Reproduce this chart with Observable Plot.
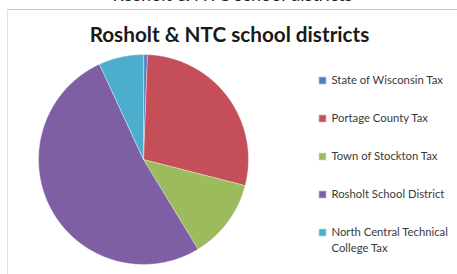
<!DOCTYPE html>
<html><head><meta charset="utf-8">
<script src="https://cdn.jsdelivr.net/npm/d3@7"></script>
<script src="https://cdn.jsdelivr.net/npm/@observablehq/plot@0.6"></script>
<style>body{margin:0;background:#fff}</style>
</head><body><div id="chart"></div>
<script>
const title = "Rosholt & NTC school districts";
const categories = ["State of Wisconsin Tax","Portage County Tax","Town of Stockton Tax","Rosholt School District","North Central Technical College Tax"];
const legendLabels = ["State of Wisconsin Tax","Portage County Tax","Town of Stockton Tax","Rosholt School District","North Central Technical\nCollege Tax"];
const shares = [0.6, 28.4, 12.3, 51.8, 6.9];
const colors = ["#4F7FC2","#C44F58","#9CBB5C","#7E5FA4","#4DADCD"];

const W = 457, H = 274, cx = 143, cy = 159, R = 105;
const arcs = d3.pie().sort(null).value(d => d.v)(categories.map((c, i) => ({c, v: shares[i]})));
const pts = [];
arcs.forEach(a => {
  const n = Math.max(2, Math.ceil((a.endAngle - a.startAngle) / 0.01));
  pts.push({c: a.data.c, x: cx, y: cy});
  for (let k = 0; k <= n; k++) {
    const ang = a.startAngle + (a.endAngle - a.startAngle) * k / n;
    pts.push({c: a.data.c, x: cx + R * Math.sin(ang), y: cy - R * Math.cos(ang)});
  }
});
const legend = categories.map((c, i) => ({c, label: legendLabels[i], y: 80 + 38 * i}));

const chart = Plot.plot({
  width: W, height: H, margin: 0,
  x: {domain: [0, W], range: [0, W], axis: null},
  y: {domain: [0, H], range: [0, H], axis: null},
  color: {domain: categories, range: colors},
  style: {fontFamily: "Lato, 'Open Sans', sans-serif", background: "#fff"},
  marks: [
    Plot.text([title], {x: () => 232, y: () => -5, text: d => d, fontSize: 18, fill: "#222"}),
    Plot.ruleY([9], {x1: 7, x2: W, stroke: "#c8c8c8", strokeWidth: 1}),
    Plot.ruleX([7], {y1: 9, y2: H, stroke: "#e0e0e8", strokeWidth: 1}),
    Plot.text([title], {x: () => 229, y: () => 35, text: d => d, fontSize: 20.7, fontWeight: "bold", fill: "#1a1a1a"}),
    Plot.line(pts, {x: "x", y: "y", z: "c", fill: "c", stroke: "#fff", strokeWidth: 0.4, curve: "linear-closed"}),
    Plot.dot(legend, {x: () => 322, y: "y", symbol: "square", r: 3.4, fill: "c", stroke: d => d.c, strokeOpacity: 0.6}),
    Plot.text(legend, {x: () => 331, y: "y", text: "label", textAnchor: "start", lineAnchor: "top", dy: -7, lineHeight: 1.36, fontSize: 11.3, fill: "#3a3a3a"})
  ]
});
document.getElementById("chart").appendChild(chart);
</script>
</body></html>
